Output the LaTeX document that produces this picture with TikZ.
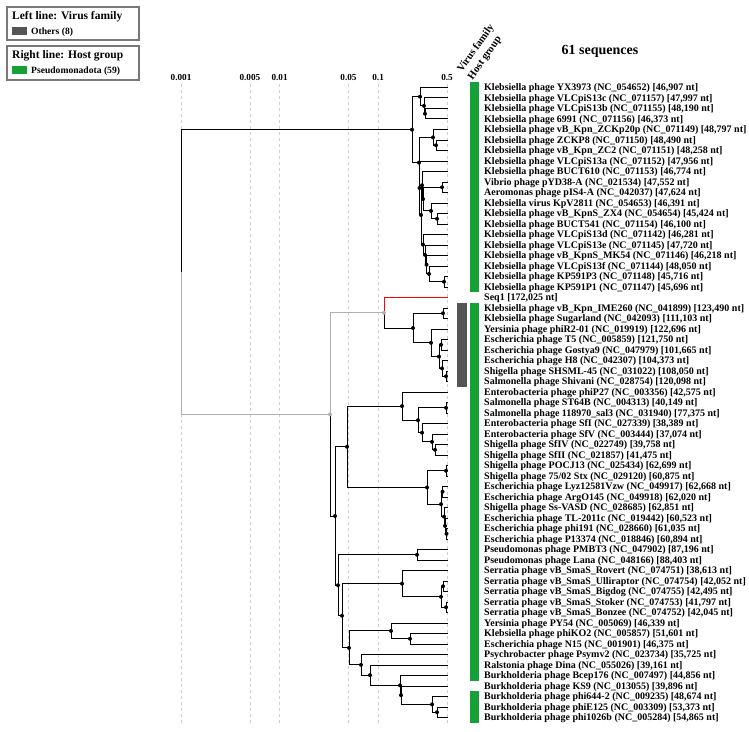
\documentclass[tikz,border=0pt]{standalone}
\usepackage{fontspec}
\setmainfont{Liberation Serif}
\definecolor{vgray}{RGB}{85,85,85}
\definecolor{hgreen}{RGB}{22,160,56}
\definecolor{lgray}{RGB}{176,176,176}
\definecolor{gridc}{RGB}{205,205,205}
\definecolor{boxc}{RGB}{120,120,120}
\begin{document}
\begin{tikzpicture}[x=1bp,y=-1bp,
  br/.style={line width=1bp,black},
  gbr/.style={line width=1bp,lgray},
  rbr/.style={line width=1bp,red},
  gridline/.style={line width=0.6bp,gridc,dash pattern=on 3bp off 3bp},
  lab/.style={anchor=base west,inner sep=0pt,font=\fontsize{10bp}{11bp}\selectfont\bfseries},
  tick/.style={anchor=base,inner sep=0pt,font=\fontsize{9.2bp}{11bp}\selectfont\bfseries},
  hdr/.style={anchor=base west,inner sep=0pt,rotate=55,font=\fontsize{10.5bp}{12bp}\selectfont\bfseries},
  legt/.style={anchor=base west,inner sep=0pt,font=\fontsize{11.5bp}{13bp}\selectfont\bfseries},
  legi/.style={anchor=base west,inner sep=0pt,font=\fontsize{9.6bp}{11bp}\selectfont\bfseries},
  legbox/.style={draw=boxc,line width=1.5bp}
]
\useasboundingbox (0,0) rectangle (749,732);

% legend
\draw[legbox] (7,7) rectangle (139,40);
\node[legt] (legA) at (12,20) {Left line: Virus family};
\fill[vgray] (12,27) rectangle (27,35);
\node[legi] (legA1) at (31,35) {Others (8)};
\draw[legbox] (7,46) rectangle (139,80);
\node[legt] (legB) at (12,59) {Right line: Host group};
\fill[hgreen] (12,66) rectangle (27,74);
\node[legi] (legB1) at (31,74) {Pseudomonadota (59)};

% headers
\node[hdr] (hv) at (462,73) {Virus family};
\node[hdr] (hh) at (472.5,80.5) {Host group};
\node[anchor=base,inner sep=0pt,font=\fontsize{14bp}{16bp}\selectfont\bfseries] (nseq) at (600,55) {61 sequences};

% grid and ticks
\foreach \gx/\gl [count=\k] in {181/0.001,249.9/0.005,279.55/0.01,348.45/0.05,378.1/0.1,447/0.5}{
  \draw[gridline] (\gx,84) -- (\gx,724);
  \node[tick] (tk\k) at (\gx,80.5) {\gl};
}

% leaf tips
\foreach \i in {0,...,60}{
  \coordinate (t\i) at (448,{87.5+10.5*\i});
}

% internal nodes
\coordinate (R) at (181,272);
\coordinate (T0) at (412,129.69);
\coordinate (a1) at (420,96.69);
\coordinate (a2) at (424,105.88);
\coordinate (a3) at (425,113.75);
\coordinate (B) at (419,162.68);
\coordinate (C) at (433,137.38);
\coordinate (C2) at (436,145.25);
\coordinate (D) at (419.5,187.99);
\coordinate (E) at (421,214.97);
\coordinate (J) at (422,185.28);
\coordinate (K) at (423,199.06);
\coordinate (F) at (442,187.25);
\coordinate (G) at (431,210.88);
\coordinate (G2) at (437,218.75);
\coordinate (H) at (423,244.67);
\coordinate (N4) at (425,254.84);
\coordinate (N3) at (426.5,264.69);
\coordinate (N2) at (429,273.88);
\coordinate (N1) at (444,281.75);
\coordinate (gA) at (330,414.4);
\coordinate (gB) at (384,312.76);
\coordinate (T5n) at (413,328.02);
\coordinate (IM) at (443,313.25);
\coordinate (P) at (431,342.78);
\coordinate (Q) at (439,356.56);
\coordinate (TG) at (441,344.75);
\coordinate (R2) at (442,368.38);
\coordinate (S) at (446,376.25);
\coordinate (A) at (335,516);
\coordinate (U) at (347,446.8);
\coordinate (Nph) at (402,406.11);
\coordinate (Na) at (418,420.22);
\coordinate (Nb) at (446,407.75);
\coordinate (Nc) at (422,432.69);
\coordinate (Nd) at (432,441.88);
\coordinate (Ne) at (435,449.75);
\coordinate (Sx) at (427,487.48);
\coordinate (S1) at (446,470.75);
\coordinate (S2) at (441,504.22);
\coordinate (S3) at (442.5,491.75);
\coordinate (S4) at (444,516.69);
\coordinate (S5) at (445,525.88);
\coordinate (S6) at (446.5,533.75);
\coordinate (M3) at (338,585.25);
\coordinate (Ps) at (417,554.75);
\coordinate (M2) at (342,615.74);
\coordinate (Se1) at (402,583.63);
\coordinate (Se2) at (441,596.75);
\coordinate (Se3) at (443,586.25);
\coordinate (Se4) at (446,607.25);
\coordinate (M1) at (349,647.86);
\coordinate (Py1) at (391,630.88);
\coordinate (Py2) at (410,638.75);
\coordinate (Psy) at (361,664.84);
\coordinate (Ra) at (370,675.17);
\coordinate (Bu1) at (400,685.34);
\coordinate (Bu2) at (401,695.19);
\coordinate (Bu3) at (432,704.38);
\coordinate (Bu4) at (437,712.25);

% branches
\draw[br] (R) |- (T0);
\draw[gbr] (R) |- (gA);
\draw[gbr] (gA) |- (gB);
\draw[br] (gA) |- (A);
\draw[rbr] (gB) |- (t20);
\draw[br] (gB) |- (T5n);
\foreach \p/\c in {T0/a1,T0/B,a1/t0,a1/a2,a2/t1,a2/a3,a3/t2,a3/t3,
  B/C,B/D,C/t4,C/C2,C2/t5,C2/t6,D/t7,D/E,E/J,E/H,J/t8,J/K,K/F,K/G,
  F/t9,F/t10,G/t11,G/G2,G2/t12,G2/t13,H/t14,H/N4,N4/t15,N4/N3,N3/t16,N3/N2,
  N2/t17,N2/N1,N1/t18,N1/t19,
  T5n/IM,T5n/P,IM/t21,IM/t22,P/t23,P/Q,Q/TG,Q/R2,TG/t24,TG/t25,R2/t26,R2/S,S/t27,S/t28,
  A/U,A/M3,U/Nph,U/Sx,Nph/t29,Nph/Na,Na/Nb,Na/Nc,Nb/t30,Nb/t31,Nc/t32,Nc/Nd,
  Nd/t33,Nd/Ne,Ne/t34,Ne/t35,Sx/S1,Sx/S2,S1/t36,S1/t37,S2/S3,S2/S4,S3/t38,S3/t39,
  S4/t40,S4/S5,S5/t41,S5/S6,S6/t42,S6/t43,
  M3/Ps,M3/M2,Ps/t44,Ps/t45,M2/Se1,M2/M1,Se1/t46,Se1/Se2,Se2/Se3,Se2/Se4,
  Se3/t47,Se3/t48,Se4/t49,Se4/t50,M1/Py1,M1/Psy,Py1/t51,Py1/Py2,Py2/t52,Py2/t53,
  Psy/t54,Psy/Ra,Ra/t55,Ra/Bu1,Bu1/t56,Bu1/Bu2,Bu2/t57,Bu2/Bu3,Bu3/t58,Bu3/Bu4,
  Bu4/t59,Bu4/t60}{
  \draw[br] (\p) |- (\c);
}

% node dots
\foreach \n in {T0,a1,a2,a3,B,C,C2,D,E,J,K,F,G,G2,H,N4,N3,N2,N1,
  T5n,IM,P,Q,TG,R2,S,A,U,Nph,Na,Nb,Nc,Nd,Ne,Sx,S1,S2,S3,S4,S5,S6,
  M3,Ps,M2,Se1,Se2,Se3,Se4,M1,Py1,Py2,Psy,Ra,Bu1,Bu2,Bu3,Bu4}{
  \fill[black] (\n) circle (2bp);
}
\fill[lgray] (gA) circle (2bp);
\fill[lgray] (gB) circle (2bp);

% annotation bars
\fill[vgray] (457,302.75) rectangle (467,386.75);
\fill[hgreen] (470,82.25) rectangle (479,292.25);
\fill[hgreen] (470,302.75) rectangle (479,680.75);
\fill[hgreen] (470,691.25) rectangle (479,722.75);

% labels
\foreach \txt [count=\i from 0] in {
{Klebsiella phage YX3973 (NC\_054652) [46,907 nt]},
{Klebsiella phage VLCpiS13c (NC\_071157) [47,997 nt]},
{Klebsiella phage VLCpiS13b (NC\_071155) [48,190 nt]},
{Klebsiella phage 6991 (NC\_071156) [46,373 nt]},
{Klebsiella phage vB\_Kpn\_ZCKp20p (NC\_071149) [48,797 nt]},
{Klebsiella phage ZCKP8 (NC\_071150) [48,490 nt]},
{Klebsiella phage vB\_Kpn\_ZC2 (NC\_071151) [48,258 nt]},
{Klebsiella phage VLCpiS13a (NC\_071152) [47,956 nt]},
{Klebsiella phage BUCT610 (NC\_071153) [46,774 nt]},
{Vibrio phage pYD38-A (NC\_021534) [47,552 nt]},
{Aeromonas phage pIS4-A (NC\_042037) [47,624 nt]},
{Klebsiella virus KpV2811 (NC\_054653) [46,391 nt]},
{Klebsiella phage vB\_KpnS\_ZX4 (NC\_054654) [45,424 nt]},
{Klebsiella phage BUCT541 (NC\_071154) [46,100 nt]},
{Klebsiella phage VLCpiS13d (NC\_071142) [46,281 nt]},
{Klebsiella phage VLCpiS13e (NC\_071145) [47,720 nt]},
{Klebsiella phage vB\_KpnS\_MK54 (NC\_071146) [46,218 nt]},
{Klebsiella phage VLCpiS13f (NC\_071144) [48,050 nt]},
{Klebsiella phage KP591P3 (NC\_071148) [45,716 nt]},
{Klebsiella phage KP591P1 (NC\_071147) [45,696 nt]},
{Seq1 [172,025 nt]},
{Klebsiella phage vB\_Kpn\_IME260 (NC\_041899) [123,490 nt]},
{Klebsiella phage Sugarland (NC\_042093) [111,103 nt]},
{Yersinia phage phiR2-01 (NC\_019919) [122,696 nt]},
{Escherichia phage T5 (NC\_005859) [121,750 nt]},
{Escherichia phage Gostya9 (NC\_047979) [101,665 nt]},
{Escherichia phage H8 (NC\_042307) [104,373 nt]},
{Shigella phage SHSML-45 (NC\_031022) [108,050 nt]},
{Salmonella phage Shivani (NC\_028754) [120,098 nt]},
{Enterobacteria phage phiP27 (NC\_003356) [42,575 nt]},
{Salmonella phage ST64B (NC\_004313) [40,149 nt]},
{Salmonella phage 118970\_sal3 (NC\_031940) [77,375 nt]},
{Enterobacteria phage SfI (NC\_027339) [38,389 nt]},
{Enterobacteria phage SfV (NC\_003444) [37,074 nt]},
{Shigella phage SfIV (NC\_022749) [39,758 nt]},
{Shigella phage SfII (NC\_021857) [41,475 nt]},
{Shigella phage POCJ13 (NC\_025434) [62,699 nt]},
{Shigella phage 75/02 Stx (NC\_029120) [60,875 nt]},
{Escherichia phage Lyz12581Vzw (NC\_049917) [62,668 nt]},
{Escherichia phage ArgO145 (NC\_049918) [62,020 nt]},
{Shigella phage Ss-VASD (NC\_028685) [62,851 nt]},
{Escherichia phage TL-2011c (NC\_019442) [60,523 nt]},
{Escherichia phage phi191 (NC\_028660) [61,035 nt]},
{Escherichia phage P13374 (NC\_018846) [60,894 nt]},
{Pseudomonas phage PMBT3 (NC\_047902) [87,196 nt]},
{Pseudomonas phage Lana (NC\_048166) [88,403 nt]},
{Serratia phage vB\_SmaS\_Rovert (NC\_074751) [38,613 nt]},
{Serratia phage vB\_SmaS\_Ulliraptor (NC\_074754) [42,052 nt]},
{Serratia phage vB\_SmaS\_Bigdog (NC\_074755) [42,495 nt]},
{Serratia phage vB\_SmaS\_Stoker (NC\_074753) [41,797 nt]},
{Serratia phage vB\_SmaS\_Bonzee (NC\_074752) [42,045 nt]},
{Yersinia phage PY54 (NC\_005069) [46,339 nt]},
{Klebsiella phage phiKO2 (NC\_005857) [51,601 nt]},
{Escherichia phage N15 (NC\_001901) [46,375 nt]},
{Psychrobacter phage Psymv2 (NC\_023734) [35,725 nt]},
{Ralstonia phage Dina (NC\_055026) [39,161 nt]},
{Burkholderia phage Bcep176 (NC\_007497) [44,856 nt]},
{Burkholderia phage KS9 (NC\_013055) [39,896 nt]},
{Burkholderia phage phi644-2 (NC\_009235) [48,674 nt]},
{Burkholderia phage phiE125 (NC\_003309) [53,373 nt]},
{Burkholderia phage phi1026b (NC\_005284) [54,865 nt]}}{
  \node[lab] (lab\i) at (484,{87.5+10.5*\i+3.4}) {\txt};
}
\end{tikzpicture}
\end{document}
